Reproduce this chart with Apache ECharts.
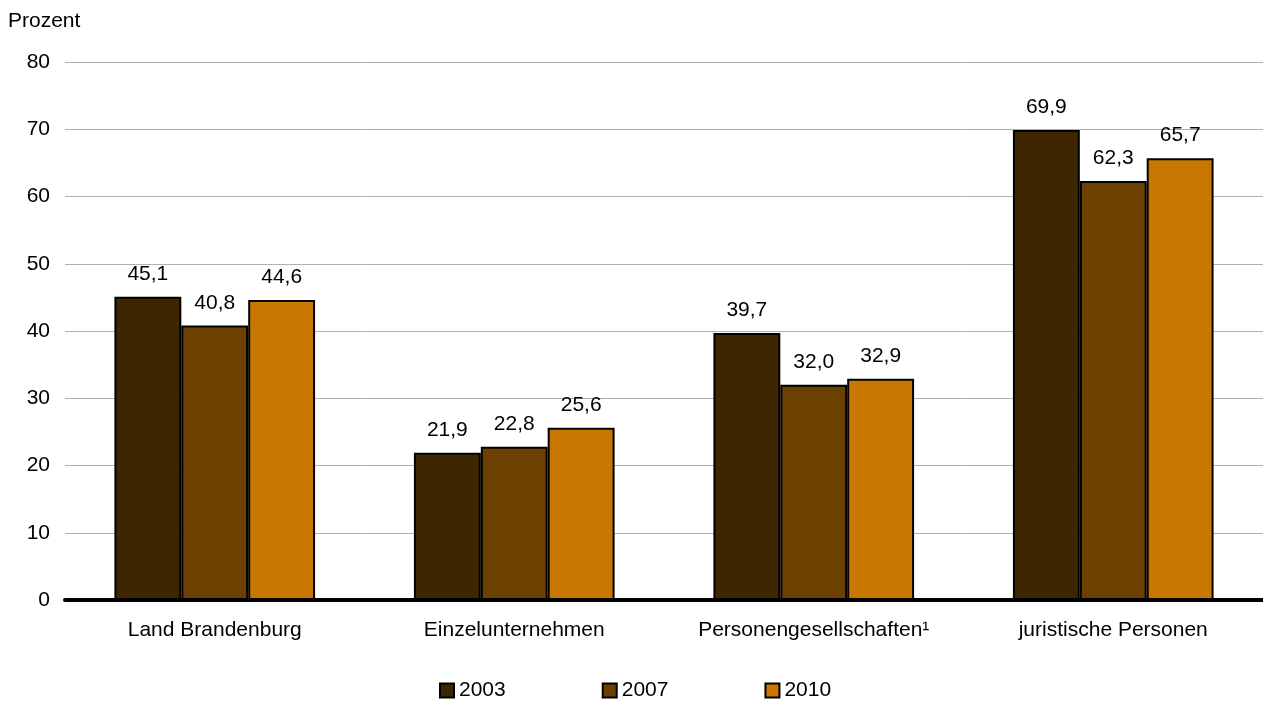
<!DOCTYPE html>
<html>
<head>
<meta charset="utf-8">
<script src="https://cdn.jsdelivr.net/npm/echarts@6/dist/echarts.min.js"></script>
<style>html,body{margin:0;padding:0;background:#fff}#c{width:1263px;height:702px}</style>
</head>
<body>
<div id="c"></div>
<script>
var categories = ['Land Brandenburg', 'Einzelunternehmen', 'Personengesellschaften\u00b9', 'juristische Personen'];
var years = ['2003', '2007', '2010'];
var v2003 = [45.1, 21.9, 39.7, 69.9];
var v2007 = [40.8, 22.8, 32.0, 62.3];
var v2010 = [44.6, 25.6, 32.9, 65.7];
var colors = ['#3D2600', '#6B4000', '#C87800'];
var seriesData = [v2003, v2007, v2010];

var font = 'Liberation Sans, Arial, sans-serif';
var fs = 21;
var chart = echarts.init(document.getElementById('c'));
chart.setOption({
  animation: false,
  textStyle: { fontFamily: font },
  grid: { left: 65, right: 0, top: 62, bottom: 102, containLabel: false },
  title: { text: 'Prozent', left: 3, top: 6, textStyle: { fontSize: fs, fontWeight: 'normal', color: '#000', fontFamily: font } },
  legend: {
    top: 675, left: 434,
    itemWidth: 14, itemHeight: 14, itemGap: 96,
    textStyle: { fontSize: fs, color: '#000', fontFamily: font },
    data: years.map(function (y) { return { name: y, icon: 'rect', itemStyle: { borderColor: '#000', borderWidth: 2 } }; })
  },
  xAxis: {
    type: 'category', data: categories,
    axisLine: { lineStyle: { color: '#000', width: 4 } },
    axisTick: { show: false },
    axisLabel: { fontSize: fs, color: '#000', margin: 20, fontFamily: font, interval: 0 }
  },
  yAxis: {
    type: 'value', min: 0, max: 80, interval: 10,
    axisLine: { show: false }, axisTick: { show: false },
    axisLabel: { fontSize: fs, color: '#000', margin: 15, fontFamily: font },
    splitLine: { lineStyle: { color: '#b0b0b0', width: 1 } }
  },
  series: years.map(function (y, i) {
    return {
      name: y, type: 'bar', data: seriesData[i],
      barGap: '0%', barCategoryGap: '33%',
      itemStyle: { color: colors[i], borderColor: '#000', borderWidth: 2 },
      label: {
        show: true, position: 'top', distance: 12, fontSize: fs, color: '#000', fontFamily: font,
        formatter: function (p) { return p.value.toFixed(1).replace('.', ','); }
      }
    };
  })
});
</script>
</body>
</html>
